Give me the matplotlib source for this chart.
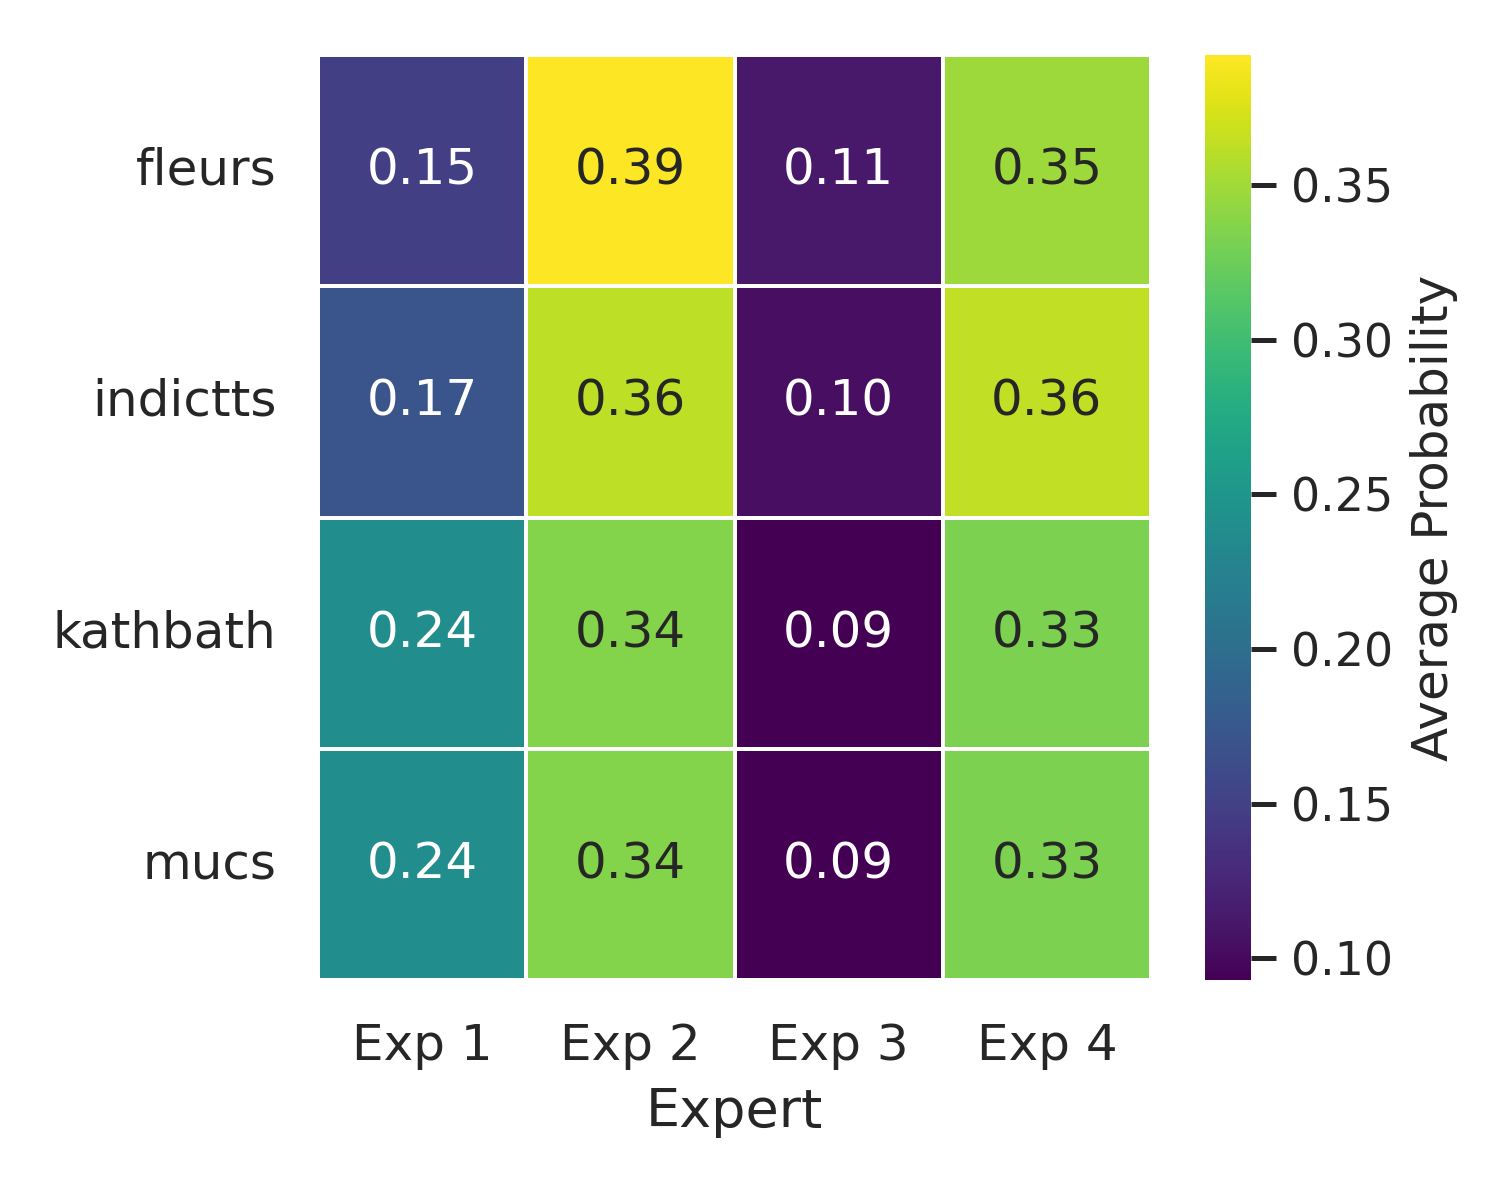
import numpy as np
import matplotlib
matplotlib.use('Agg')
import matplotlib.pyplot as plt
import seaborn as sns

datasets = ['fleurs', 'indictts', 'kathbath', 'mucs']
experts = ['Exp 1', 'Exp 2', 'Exp 3', 'Exp 4']

fleurs = [0.148, 0.392, 0.112, 0.348]
indictts = [0.171, 0.362, 0.104, 0.363]
kathbath = [0.238, 0.336, 0.093, 0.333]
mucs = [0.238, 0.336, 0.093, 0.333]

probs = np.array([fleurs, indictts, kathbath, mucs])

sns.set_theme(style='white')
plt.rcParams['font.family'] = ['DejaVu Sans']

fig = plt.figure(figsize=(5, 4), dpi=300)
ax = fig.add_axes([318/1500, 1 - 980/1200, (1151-318)/1500, (980-55)/1200])
cax = fig.add_axes([1205/1500, 1 - 980/1200, (1251-1205)/1500, (980-55)/1200])

sns.heatmap(probs, ax=ax, cbar_ax=cax, cmap='viridis', annot=True, fmt='.2f',
            linewidths=0.5, linecolor='white',
            annot_kws={'fontsize': 12},
            xticklabels=experts, yticklabels=datasets,
            cbar_kws={'label': 'Average Probability'})

ax.set_xlabel('Expert', fontsize=13, labelpad=4)
ax.set_ylabel('')
ax.tick_params(axis='both', labelsize=12, length=0, pad=10)
ax.set_yticklabels(datasets, rotation=0)

cax.tick_params(labelsize=11, length=6, width=1.2, pad=3.5, color='#262626',
                direction='out', left=False, right=True)
cax.yaxis.label.set_size(12)

fig.savefig('out.png', dpi=300)
